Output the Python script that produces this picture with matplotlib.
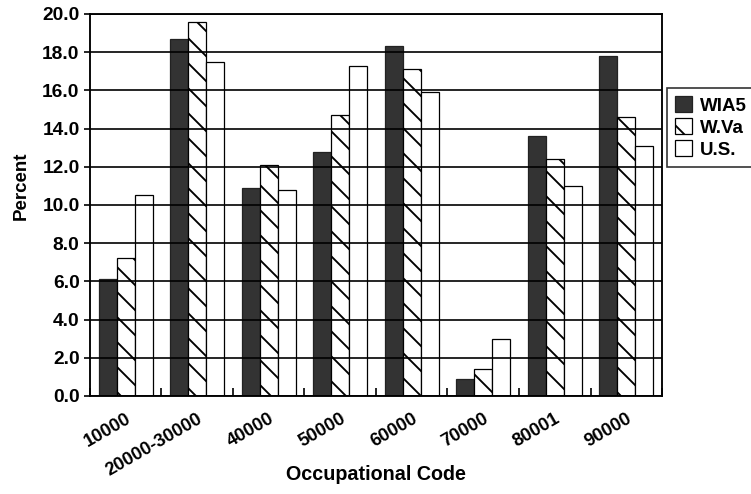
import numpy as np
import matplotlib
matplotlib.use("Agg")
import matplotlib.pyplot as plt

# data
codes = ["10000", "20000-30000", "40000", "50000", "60000", "70000", "80001", "90000"]
wia5 = [6.1, 18.7, 10.9, 12.8, 18.3, 0.9, 13.6, 17.8]
wva = [7.2, 19.6, 12.1, 14.7, 17.1, 1.4, 12.4, 14.6]
us = [10.5, 17.5, 10.8, 17.3, 15.9, 3.0, 11.0, 13.1]
yticks = [0, 2, 4, 6, 8, 10, 12, 14, 16, 18, 20]

plt.rcParams['font.family'] = ['Liberation Sans', 'DejaVu Sans']
plt.rcParams['font.weight'] = 'bold'
plt.rcParams['hatch.linewidth'] = 0.9

dpi = 150
fig = plt.figure(figsize=(751 / dpi, 494 / dpi), dpi=dpi)
ax = fig.add_axes([0.1198, 0.1984, 0.7617, 0.7733])

x = np.arange(len(codes))
w = 0.25
ax.bar(x - w, wia5, w, color='#333333', edgecolor='#222222', linewidth=0.6, label='WIA5', zorder=1)
ax.bar(x, wva, w, color='white', edgecolor='black', hatch='\\\\', linewidth=0.6, label='W.Va', zorder=1)
ax.bar(x + w, us, w, color='white', edgecolor='black', linewidth=0.6, label='U.S.', zorder=1)

ax.set_ylim(0, 20)
ax.set_xlim(-0.5, len(codes) - 0.5)
ax.set_yticks(yticks)
ax.set_yticklabels(["%.1f" % v for v in yticks], fontsize=9.2)
ax.yaxis.grid(True, color='black', linewidth=0.8, zorder=2)
ax.set_axisbelow(False)

ax.set_xticks(x)
ax.set_xticklabels(codes, rotation=30, ha='right', rotation_mode='anchor', fontsize=8.8)
ax.tick_params(axis='x', length=0, pad=7)
ax.set_xticks(np.arange(len(codes) + 1) - 0.5, minor=True)
ax.tick_params(axis='x', which='minor', direction='in', length=4, width=0.8)
ax.tick_params(axis='y', length=3, width=0.8, pad=2)

for s in ax.spines.values():
    s.set_linewidth(0.9)

ax.set_xlabel("Occupational Code", fontsize=9.5, fontweight='bold')
ax.xaxis.set_label_coords(0.5, -0.18)
ax.set_ylabel("Percent", fontsize=9, fontweight='bold')
ax.yaxis.set_label_coords(-0.106, 0.55)

leg = ax.legend(loc='upper left', bbox_to_anchor=(667 / 751, 1 - 88 / 494),
                bbox_transform=fig.transFigure, fontsize=9, frameon=True,
                fancybox=False, edgecolor='black', handlelength=0.9,
                handleheight=0.9, handletextpad=0.4, labelspacing=0.2,
                borderpad=0.45, borderaxespad=0)
leg.get_frame().set_linewidth(0.8)

fig.savefig("out.png", dpi=dpi)
